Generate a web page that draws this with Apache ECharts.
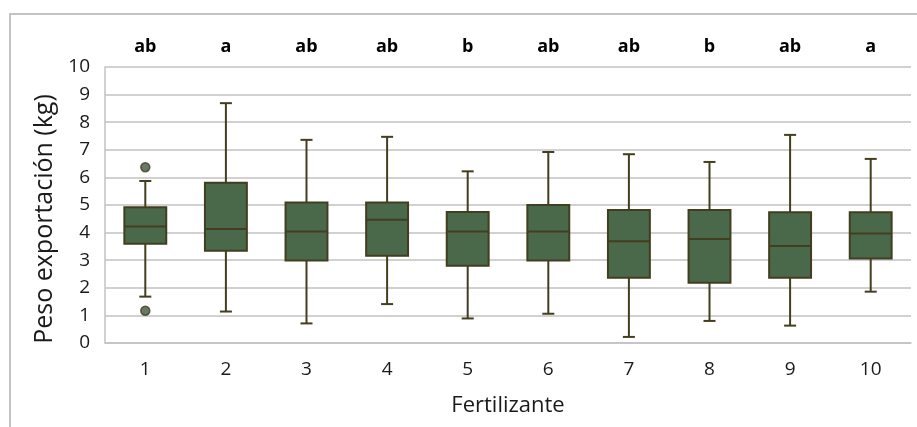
<!DOCTYPE html>
<html>
<head>
<meta charset="utf-8">
<script src="https://cdn.jsdelivr.net/npm/echarts@6/dist/echarts.min.js"></script>
<style>
  html, body { margin: 0; padding: 0; background: #ffffff; }
  #chart { width: 917px; height: 427px; }
</style>
</head>
<body>
<div id="chart"></div>
<script>
// Fertilizer treatments on the category axis
const categories = ['1', '2', '3', '4', '5', '6', '7', '8', '9', '10'];
// Tukey group letters shown above each box
const groupLetters = ['ab', 'a', 'ab', 'ab', 'b', 'ab', 'ab', 'b', 'ab', 'a'];
// Five-number summaries of export weight (kg)
const whiskerLow  = [1.68, 1.14, 0.71, 1.41, 0.89, 1.06, 0.22, 0.80, 0.63, 1.86];
const quartile1   = [3.60, 3.34, 2.99, 3.16, 2.80, 2.99, 2.36, 2.18, 2.36, 3.06];
const medians     = [4.22, 4.13, 4.04, 4.47, 4.04, 4.04, 3.69, 3.77, 3.51, 3.97];
const quartile3   = [4.92, 5.81, 5.09, 5.09, 4.75, 5.00, 4.82, 4.82, 4.74, 4.74];
const whiskerHigh = [5.87, 8.69, 7.36, 7.47, 6.22, 6.92, 6.84, 6.56, 7.54, 6.67];
// Outlying observations: [category index, value]
const outliers = [[0, 6.37], [0, 1.17]];
// Value axis ticks
const yTicks = [0, 1, 2, 3, 4, 5, 6, 7, 8, 9, 10];

const boxFill = '#4a684a';
const boxLine = '#423e1f';
const gridGray = '#c2c2c2';
const fontFam = '"Open Sans", "Noto Sans", sans-serif';

const boxData = categories.map((c, i) => [i, whiskerLow[i], quartile1[i], medians[i], quartile3[i], whiskerHigh[i]]);

function renderBox(params, api) {
  const idx = api.value(0);
  const band = api.size([1, 0])[0];
  const boxW = band * 0.52;
  const capW = 12;
  const pLow = api.coord([idx, api.value(1)]);
  const pQ1 = api.coord([idx, api.value(2)]);
  const pMed = api.coord([idx, api.value(3)]);
  const pQ3 = api.coord([idx, api.value(4)]);
  const pHigh = api.coord([idx, api.value(5)]);
  const cx = pQ1[0];
  const lineStyle = { stroke: boxLine, lineWidth: 2 };
  return {
    type: 'group',
    children: [
      { type: 'line', shape: { x1: cx, y1: pHigh[1], x2: cx, y2: pQ3[1] }, style: lineStyle },
      { type: 'line', shape: { x1: cx - capW / 2, y1: pHigh[1], x2: cx + capW / 2, y2: pHigh[1] }, style: lineStyle },
      { type: 'line', shape: { x1: cx, y1: pQ1[1], x2: cx, y2: pLow[1] }, style: lineStyle },
      { type: 'line', shape: { x1: cx - capW / 2, y1: pLow[1], x2: cx + capW / 2, y2: pLow[1] }, style: lineStyle },
      { type: 'rect', shape: { x: cx - boxW / 2, y: pQ3[1], width: boxW, height: pQ1[1] - pQ3[1] },
        style: { fill: boxFill, stroke: boxLine, lineWidth: 2 } },
      { type: 'line', shape: { x1: cx - boxW / 2, y1: pMed[1], x2: cx + boxW / 2, y2: pMed[1] }, style: lineStyle }
    ]
  };
}

const chart = echarts.init(document.getElementById('chart'), null, { renderer: 'canvas' });
chart.setOption({
  animation: false,
  backgroundColor: '#ffffff',
  grid: { left: 105, right: 6, top: 67, bottom: 84 },
  graphic: [{
    type: 'rect',
    shape: { x: 10, y: 14, width: 930, height: 440 },
    style: { fill: 'none', stroke: '#c4c4c4', lineWidth: 2 },
    silent: true, z: -1
  }],
  xAxis: [{
    type: 'category',
    data: categories,
    position: 'bottom',
    axisLine: { show: true, lineStyle: { color: gridGray, width: 1.5 } },
    axisTick: { show: false },
    axisLabel: { color: '#1a1a1a', fontSize: 19, margin: 17, fontFamily: fontFam },
    name: 'Fertilizante',
    nameLocation: 'middle',
    nameGap: 52,
    nameTextStyle: { color: '#1a1a1a', fontSize: 22, fontFamily: fontFam }
  }, {
    type: 'category',
    data: groupLetters,
    position: 'top',
    axisLine: { show: false },
    axisTick: { show: false },
    axisLabel: { color: '#000000', fontSize: 18, fontWeight: 'bold', margin: 11, fontFamily: fontFam }
  }],
  yAxis: {
    type: 'value',
    min: yTicks[0],
    max: yTicks[yTicks.length - 1],
    interval: 1,
    axisLine: { show: true, lineStyle: { color: gridGray, width: 1.5 } },
    axisTick: { show: false },
    splitLine: { show: true, lineStyle: { color: gridGray, width: 1.5 } },
    axisLabel: { color: '#1a1a1a', fontSize: 19, margin: 15, fontFamily: fontFam },
    name: 'Peso exportación (kg)',
    nameLocation: 'middle',
    nameGap: 48,
    nameTextStyle: { color: '#1a1a1a', fontSize: 25, fontFamily: fontFam, padding: [0, 28, 0, 0] }
  },
  series: [{
    type: 'custom',
    xAxisIndex: 0,
    renderItem: renderBox,
    encode: { x: 0, y: [1, 2, 3, 4, 5] },
    data: boxData,
    z: 3
  }, {
    type: 'scatter',
    xAxisIndex: 0,
    data: outliers,
    symbol: 'circle',
    symbolSize: 9,
    itemStyle: { color: '#3f5a3f', borderColor: boxLine, borderWidth: 1.5 },
    z: 4
  }]
});
</script>
</body>
</html>
